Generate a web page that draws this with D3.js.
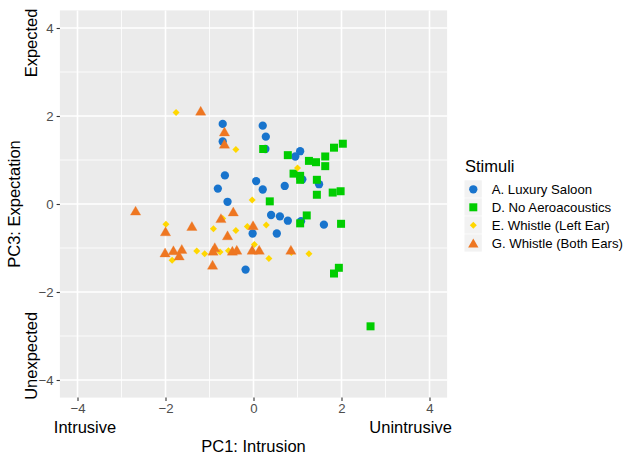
<!DOCTYPE html>
<html>
<head>
<meta charset="utf-8">
<script src="https://cdn.jsdelivr.net/npm/d3@7"></script>
<style>
  html, body { margin: 0; padding: 0; background: #ffffff; }
  svg { display: block; font-family: "Liberation Sans", Arial, sans-serif; }
</style>
</head>
<body>
<svg id="chart" width="628" height="457"></svg>
<script>
// ---------- data ----------
const groupNames = ["A. Luxury Saloon", "D. No Aeroacoustics", "E. Whistle (Left Ear)", "G. Whistle (Both Ears)"];
const groupColors = ["#1874CD", "#00CD00", "#FFD700", "#EE7621"];
const groupShapes = ["circle", "square", "diamond", "triangle"];

const saloonPC1 = [-0.70, -0.70, -0.65, -0.81, -0.59, 0.21, 0.28, 0.27, 1.06, 0.95, 0.06, 0.21, 0.71, 1.11, 1.49, 0.40, 0.60, 0.78, 1.08, 1.60, -0.02, 0.53, -0.18];
const saloonPC3 = [1.82, 1.42, 0.65, 0.35, 0.05, 1.78, 1.53, 1.25, 1.20, 1.08, 0.52, 0.33, 0.41, 0.56, 0.45, -0.25, -0.28, -0.38, -0.39, -0.47, -0.67, -0.67, -1.49];

const noAeroPC1 = [0.22, 0.78, 1.26, 1.42, 1.63, 1.83, 2.03, 1.63, 0.91, 1.06, 1.06, 1.44, 1.44, 1.80, 1.98, 0.37, 1.21, 1.06, 1.99, 1.94, 1.83, 2.66];
const noAeroPC3 = [1.25, 1.11, 0.98, 0.95, 1.08, 1.28, 1.37, 0.86, 0.69, 0.64, 0.55, 0.55, 0.21, 0.26, 0.29, 0.06, -0.26, -0.44, -0.45, -1.45, -1.58, -2.78];

const leftEarPC1 = [-1.76, -0.40, 1.00, -0.03, -1.99, -0.91, -0.40, -0.14, 0.29, -0.70, 0.02, -1.85, -1.29, -1.11, -0.76, -0.57, 0.35, 0.86, 1.26];
const leftEarPC3 = [2.08, 1.24, 0.82, 0.09, -0.46, -0.56, -0.60, -0.51, -0.48, -0.33, -0.92, -1.28, -1.07, -1.13, -1.09, -1.06, -1.24, -1.10, -1.13];

const bothEarsPC1 = [-1.20, -0.66, -0.66, -2.68, -2.00, -1.40, -0.74, -0.46, -0.01, -0.59, -2.01, -1.82, -1.69, -1.63, -0.88, -0.92, -0.93, -0.48, -0.38, -0.03, 0.13, 0.85];
const bothEarsPC3 = [2.11, 1.64, 1.36, -0.16, -0.63, -0.51, -0.33, -0.18, -0.49, -0.72, -1.11, -1.06, -1.18, -1.03, -0.99, -1.07, -1.39, -1.07, -1.05, -1.05, -1.05, -1.05];

const tickValues = [-4, -2, 0, 2, 4];
const minorValues = [-3, -1, 1, 3];
const xTitle = "PC1: Intrusion";
const yTitle = "PC3: Expectation";
const legendTitle = "Stimuli";
const xEndLabels = ["Intrusive", "Unintrusive"];
const yEndLabels = ["Expected", "Unexpected"];

// ---------- build ----------
const seriesX = [saloonPC1, noAeroPC1, leftEarPC1, bothEarsPC1];
const seriesY = [saloonPC3, noAeroPC3, leftEarPC3, bothEarsPC3];
const points = [];
seriesX.forEach((xs, g) => xs.forEach((x, i) => points.push({ g, x, y: seriesY[g][i] })));

const svg = d3.select("#chart");
const panel = { left: 59.9, top: 10.4, width: 387.2, height: 387.2 };
const x = d3.scaleLinear().domain([-4.4, 4.4]).range([panel.left, panel.left + panel.width]);
const y = d3.scaleLinear().domain([-4.4, 4.4]).range([panel.top + panel.height, panel.top]);

// panel background
svg.append("rect").attr("x", panel.left).attr("y", panel.top)
  .attr("width", panel.width).attr("height", panel.height).attr("fill", "#EBEBEB");

// grid
const grid = svg.append("g");
minorValues.forEach(v => {
  grid.append("line").attr("x1", x(v)).attr("x2", x(v)).attr("y1", panel.top).attr("y2", panel.top + panel.height)
    .attr("stroke", "#fff").attr("stroke-width", 0.8);
  grid.append("line").attr("y1", y(v)).attr("y2", y(v)).attr("x1", panel.left).attr("x2", panel.left + panel.width)
    .attr("stroke", "#fff").attr("stroke-width", 0.8);
});
tickValues.forEach(v => {
  grid.append("line").attr("x1", x(v)).attr("x2", x(v)).attr("y1", panel.top).attr("y2", panel.top + panel.height)
    .attr("stroke", "#fff").attr("stroke-width", 1.6);
  grid.append("line").attr("y1", y(v)).attr("y2", y(v)).attr("x1", panel.left).attr("x2", panel.left + panel.width)
    .attr("stroke", "#fff").attr("stroke-width", 1.6);
});

// axes
const xAxis = d3.axisBottom(x).tickValues(tickValues).tickSize(3.3).tickPadding(3).tickFormat(d3.format("d"));
const yAxis = d3.axisLeft(y).tickValues(tickValues).tickSize(3.3).tickPadding(3).tickFormat(d3.format("d"));
const gx = svg.append("g").attr("transform", `translate(0,${panel.top + panel.height})`).call(xAxis);
const gy = svg.append("g").attr("transform", `translate(${panel.left},0)`).call(yAxis);
[gx, gy].forEach(g => {
  g.select(".domain").remove();
  g.selectAll(".tick line").attr("stroke", "#333333").attr("stroke-width", 1.1);
  g.selectAll(".tick text").attr("fill", "#4D4D4D").style("font-size", "13.2px")
    .style("font-family", "'Liberation Sans', Arial, sans-serif");
});
gx.selectAll(".tick text").attr("dy", "0.71em");

// symbols
function symbolPath(shape) {
  if (shape === "diamond") {
    const r = 3.5;
    return `M0,${-r}L${r},0L0,${r}L${-r},0Z`;
  }
  const types = { circle: d3.symbolCircle, square: d3.symbolSquare, triangle: d3.symbolTriangle };
  const sizes = { circle: 54, square: 64, triangle: 46 };
  return d3.symbol().type(types[shape]).size(sizes[shape])();
}
const triOffset = 1.1; // d3 triangle centroid vs bbox centre

const pts = svg.append("g");
pts.selectAll("path").data(points).join("path")
  .attr("d", d => symbolPath(groupShapes[d.g]))
  .attr("transform", d => `translate(${x(d.x)},${y(d.y) + (groupShapes[d.g] === "triangle" ? triOffset : 0)})`)
  .attr("fill", d => groupColors[d.g])
  .attr("stroke", d => groupShapes[d.g] === "triangle" ? "#EE7621" : "none")
  .attr("stroke-opacity", 0.5).attr("stroke-width", 0.6);

// titles
svg.append("text").attr("x", x(0)).attr("y", 451.5).attr("text-anchor", "middle")
  .style("font-size", "16.5px").attr("fill", "#000").text(xTitle);
svg.append("text").attr("transform", `translate(14,${y(0)}) rotate(-90)`).attr("dy", "0.35em")
  .attr("text-anchor", "middle").style("font-size", "16.5px").attr("fill", "#000").text(yTitle);

// end labels
svg.append("text").attr("x", x(-3.83)).attr("y", 432.5).attr("text-anchor", "middle")
  .style("font-size", "16.5px").attr("fill", "#000").text(xEndLabels[0]);
svg.append("text").attr("x", x(3.57)).attr("y", 432.5).attr("text-anchor", "middle")
  .style("font-size", "16.5px").attr("fill", "#000").text(xEndLabels[1]);
svg.append("text").attr("transform", `translate(31.7,${y(3.66)}) rotate(-90)`).attr("dy", "0.35em")
  .attr("text-anchor", "middle").style("font-size", "16.5px").attr("fill", "#000").text(yEndLabels[0]);
svg.append("text").attr("transform", `translate(31.7,${y(-3.45)}) rotate(-90)`).attr("dy", "0.35em")
  .attr("text-anchor", "middle").style("font-size", "16.5px").attr("fill", "#000").text(yEndLabels[1]);

// legend
const legend = svg.append("g").attr("transform", "translate(464.5,172)");
legend.append("text").attr("x", 0.5).attr("y", 0).style("font-size", "16.5px").attr("fill", "#000").text(legendTitle);
groupNames.forEach((name, i) => {
  const row = legend.append("g").attr("transform", `translate(0,${8.3 + i * 18})`);
  row.append("rect").attr("width", 17.3).attr("height", 17.3).attr("fill", "#F2F2F2");
  row.append("path").attr("d", symbolPath(groupShapes[i]))
    .attr("transform", `translate(8.8,${9 + (groupShapes[i] === "triangle" ? triOffset : 0)})`)
    .attr("fill", groupColors[i]);
  row.append("text").attr("x", 27.2).attr("y", 9).attr("dy", "0.35em")
    .style("font-size", "13.2px").attr("fill", "#000").text(name);
});
</script>
</body>
</html>
